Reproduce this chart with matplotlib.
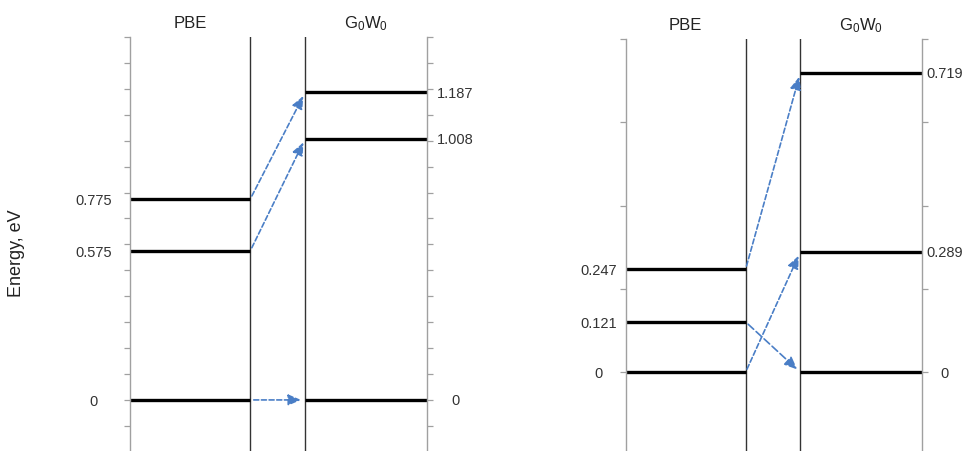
import matplotlib
matplotlib.use("Agg")
import matplotlib.pyplot as plt
import matplotlib.transforms as mtransforms
import numpy as np

plt.rcParams['font.family'] = ['Liberation Sans', 'DejaVu Sans']
plt.rcParams['mathtext.fontset'] = 'custom'
plt.rcParams['mathtext.rm'] = 'Liberation Sans'
plt.rcParams['mathtext.it'] = 'Liberation Sans:italic'

# ---------------- data ----------------
columns = ["PBE", r"$\mathrm{G_0W_0}$"]
ylabel = "Energy, eV"

# panel 1
pbe_levels_1 = [0.0, 0.575, 0.775]
pbe_labels_1 = ["0", "0.575", "0.775"]
gw_levels_1 = [0.0, 1.008, 1.187]
gw_labels_1 = ["0", "1.008", "1.187"]
arrows_1 = [(0, 0), (1, 1), (2, 2)]          # (pbe index, gw index)
arrow_dash_1 = ["short", "short", "short"]
ylim_1 = (-0.197, 1.4)
tick_step_1 = 0.1

# panel 2
pbe_levels_2 = [0.0, 0.121, 0.247]
pbe_labels_2 = ["0", "0.121", "0.247"]
gw_levels_2 = [0.0, 0.289, 0.719]
gw_labels_2 = ["0", "0.289", "0.719"]
arrows_2 = [(0, 1), (1, 0), (2, 2)]
arrow_dash_2 = ["short", "long", "short"]
ylim_2 = (-0.189, 0.8)
tick_step_2 = 0.2

# ---------------- style ----------------
W, H = 968, 451
fig = plt.figure(figsize=(W / 100, H / 100), dpi=100)

AX_GRAY = "#a0a0a0"
COL_LINE = "#333333"
ARROW_C = "#4a7ec6"
TXT_C = "#333333"
PBE_END = 0.405
GW_START = 0.59
DASHES = {"short": (0, (3.0, 1.6)), "long": (0, (4.5, 2.0))}


def px_rect(x0, x1, ytop, ybot):
    return [x0 / W, 1 - ybot / H, (x1 - x0) / W, (ybot - ytop) / H]


def make_panel(rect, pbe_levels, pbe_labels, gw_levels, gw_labels, arrows,
               dashes, ylim, step, lab_off_l, lab_off_r):
    ax = fig.add_axes(rect)
    ax.set_xlim(0, 1)
    ax.set_ylim(*ylim)
    for s in ("top", "bottom"):
        ax.spines[s].set_visible(False)
    for s in ("left", "right"):
        ax.spines[s].set_color(AX_GRAY)
        ax.spines[s].set_linewidth(1.0)
    ticks = np.arange(-10, 30) * step
    ticks = [t for t in ticks if ylim[0] <= t <= ylim[1] + 1e-9]
    ax.set_yticks(ticks)
    ax.set_xticks([])
    ax.tick_params(axis="y", left=True, right=True, labelleft=False,
                   labelright=False, direction="out", length=4,
                   width=0.9, color=AX_GRAY)
    ax.axvline(PBE_END, color=COL_LINE, lw=1.0)
    ax.axvline(GW_START, color=COL_LINE, lw=1.0)

    ax.hlines(pbe_levels, 0, PBE_END, color="black", lw=2.4)
    ax.hlines(gw_levels, GW_START, 1, color="black", lw=2.4)

    for v, s in zip(pbe_levels, pbe_labels):
        ax.annotate(s, xy=(0, v), xytext=(lab_off_l, -1.5),
                    textcoords="offset points", ha="center", va="center",
                    fontsize=10.5, color=TXT_C)
    for v, s in zip(gw_levels, gw_labels):
        ax.annotate(s, xy=(1, v), xytext=(lab_off_r, -1.0),
                    textcoords="offset points", ha="center", va="center",
                    fontsize=10.5, color=TXT_C)

    for (i, j), d in zip(arrows, dashes):
        ax.annotate("", xy=(GW_START, gw_levels[j]),
                    xytext=(PBE_END, pbe_levels[i]),
                    arrowprops=dict(arrowstyle="-|>,head_length=0.7,head_width=0.3",
                                    color=ARROW_C, lw=1.2, linestyle=DASHES[d],
                                    shrinkA=2.5, shrinkB=3.0, mutation_scale=11))

    tr = mtransforms.blended_transform_factory(ax.transData, ax.transAxes)
    ax.annotate(columns[0], xy=(PBE_END / 2, 1), xycoords=tr,
                xytext=(0, 9.5), textcoords="offset points",
                ha="center", va="center", fontsize=12, color="#222222")
    ax.annotate(columns[1], xy=((GW_START + 1) / 2, 1), xycoords=tr,
                xytext=(0, 9.5), textcoords="offset points",
                ha="center", va="center", fontsize=12, color="#222222")
    return ax


make_panel(px_rect(130, 427, 37, 451), pbe_levels_1, pbe_labels_1,
           gw_levels_1, gw_labels_1, arrows_1, arrow_dash_1, ylim_1,
           tick_step_1, -26.5, 20.5)
make_panel(px_rect(625.7, 921.7, 39, 451), pbe_levels_2, pbe_labels_2,
           gw_levels_2, gw_labels_2, arrows_2, arrow_dash_2, ylim_2,
           tick_step_2, -19.5, 16.5)

fig.text(17 / W, 1 - 253 / H, ylabel, rotation=90, ha="center", va="center",
         fontsize=13, color="#222222")

fig.savefig("out.png", dpi=100, facecolor="white")
